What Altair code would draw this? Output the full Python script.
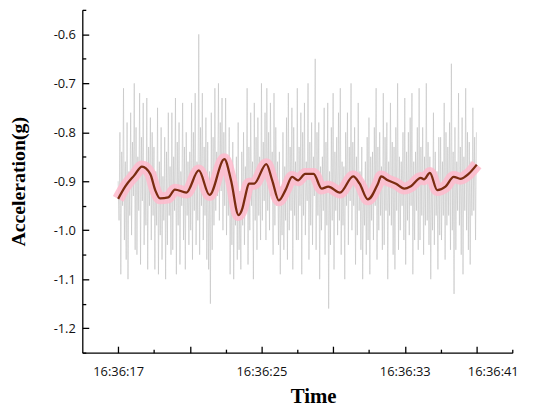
import altair as alt
import pandas as pd

# ---- data ----
# raw acceleration samples (g), 0.05 s apart starting at 16:36:17
raw_start = 17.0
raw_step = 0.05
raw_values = [
    # 16:36:17
    -0.90, -0.98, -0.80, -1.09, -0.84, -0.95, -0.71, -1.02, -0.86, -1.06,
    -0.78, -1.10, -0.88, -0.97, -0.76, -1.01, -0.82, -0.93, -0.70, -1.04,
    # 16:36:18
    -0.79, -1.05, -0.85, -0.96, -0.72, -1.07, -0.81, -0.94, -0.74, -1.03,
    -0.87, -0.99, -0.73, -1.08, -0.83, -0.95, -0.77, -1.02, -0.80, -0.97,
    # 16:36:19
    -0.83, -1.08, -0.88, -0.99, -0.75, -1.09, -0.86, -1.01, -0.79, -1.06,
    -0.89, -0.98, -0.81, -1.10, -0.84, -1.03, -0.76, -0.97, -0.87, -1.05,
    # 16:36:20
    -0.76, -1.04, -0.85, -0.96, -0.73, -1.09, -0.82, -0.99, -0.78, -1.07,
    -0.88, -0.95, -0.74, -1.02, -0.83, -1.08, -0.80, -0.97, -0.86, -1.03,
    # 16:36:21
    -0.84, -1.00, -0.74, -1.06, -0.80, -0.96, -0.72, -1.03, -0.86, -0.98,
    -0.60, -1.05, -0.79, -0.95, -0.72, -1.02, -0.83, -0.97, -0.77, -1.06,
    # 16:36:22
    -0.82, -1.08, -0.88, -1.15, -0.76, -1.04, -0.81, -0.99, -0.71, -0.96,
    -0.84, -0.93, -0.70, -0.98, -0.78, -0.92, -0.73, -1.00, -0.80, -0.95,
    # 16:36:23
    -0.73, -1.01, -0.85, -0.97, -0.79, -1.09, -0.88, -1.03, -0.82, -1.10,
    -0.90, -0.99, -0.85, -1.06, -0.78, -1.04, -0.92, -1.08, -0.84, -0.99,
    # 16:36:24
    -0.80, -1.03, -0.87, -0.96, -0.71, -1.07, -0.83, -1.00, -0.76, -0.95,
    -0.86, -1.10, -0.74, -0.98, -0.81, -1.04, -0.77, -0.97, -0.85, -1.02,
    # 16:36:25
    -0.70, -0.98, -0.82, -0.94, -0.76, -1.02, -0.71, -0.96, -0.80, -1.00,
    -0.74, -0.93, -0.84, -1.05, -0.72, -0.99, -0.79, -0.95, -0.86, -1.03,
    # 16:36:26
    -0.84, -1.09, -0.91, -1.01, -0.80, -1.04, -0.87, -0.98, -0.77, -1.06,
    -0.72, -1.00, -0.83, -0.96, -0.75, -1.08, -0.79, -0.97, -0.86, -1.02,
    # 16:36:27
    -0.71, -1.02, -0.83, -0.95, -0.76, -1.09, -0.80, -0.97, -0.74, -1.01,
    -0.86, -0.94, -0.70, -1.06, -0.82, -0.99, -0.78, -1.03, -0.85, -0.93,
    # 16:36:28
    -0.65, -1.04, -0.80, -0.97, -0.78, -1.10, -0.87, -1.00, -0.85, -0.96,
    -0.75, -1.05, -0.82, -0.99, -0.74, -1.16, -0.88, -1.03, -0.79, -0.98,
    # 16:36:29
    -0.72, -1.08, -0.84, -0.96, -0.81, -1.01, -0.76, -0.98, -0.71, -1.05,
    -0.86, -0.99, -0.87, -1.10, -0.80, -0.95, -0.76, -1.03, -0.83, -0.94,
    # 16:36:30
    -0.70, -1.00, -0.82, -0.95, -0.79, -1.07, -0.85, -1.01, -0.74, -0.96,
    -0.88, -1.04, -0.83, -1.10, -0.90, -0.99, -0.86, -1.05, -0.81, -1.02,
    # 16:36:31
    -0.77, -1.09, -0.85, -0.98, -0.84, -1.02, -0.79, -0.95, -0.71, -1.06,
    -0.83, -1.00, -0.80, -0.97, -0.87, -1.04, -0.72, -1.03, -0.81, -0.96,
    # 16:36:32
    -0.78, -1.10, -0.86, -0.97, -0.74, -0.99, -0.82, -1.05, -0.83, -1.08,
    -0.79, -0.96, -0.70, -1.04, -0.85, -1.00, -0.86, -0.95, -0.80, -1.02,
    # 16:36:33
    -0.73, -1.07, -0.84, -0.98, -0.80, -1.01, -0.77, -0.95, -0.72, -1.09,
    -0.86, -1.02, -0.84, -0.96, -0.79, -1.04, -0.71, -1.02, -0.83, -0.97,
    # 16:36:34
    -0.79, -1.05, -0.85, -0.99, -0.70, -0.98, -0.82, -1.03, -0.85, -1.10,
    -0.88, -1.00, -0.76, -1.03, -0.84, -0.97, -0.88, -1.08, -0.81, -1.01,
    # 16:36:35
    -0.81, -1.02, -0.86, -0.97, -0.74, -1.06, -0.80, -0.99, -0.83, -0.97,
    -0.78, -1.04, -0.66, -1.00, -0.84, -1.13, -0.79, -1.04, -0.86, -0.96,
    # 16:36:36
    -0.72, -0.99, -0.83, -1.05, -0.77, -1.09, -0.85, -0.96, -0.71, -1.00,
    -0.80, -1.04, -0.82, -1.07, -0.86, -0.97, -0.75, -0.96, -0.81, -1.02,
    # 16:36:37
    -0.80,
]

# smoothed curve (seconds after 16:36:00, g)
smooth_t = [17.00, 17.41, 17.90, 18.33, 18.79, 19.07, 19.34, 19.80, 20.17, 20.81,
            21.50, 22.10, 22.93, 23.30, 23.72, 23.94, 24.10, 24.30, 24.59, 25.27,
            25.60, 25.97, 26.34, 26.71, 27.04, 27.44, 27.91, 28.36, 28.73, 29.38,
            30.12, 30.48, 30.94, 31.50, 31.68, 32.05, 32.51, 32.97, 33.34, 33.89,
            34.07, 34.40, 34.81, 35.27, 35.73, 36.10, 36.56, 37.02]
smooth_v = [-0.936, -0.910, -0.888, -0.870, -0.885, -0.918, -0.935, -0.933, -0.917, -0.923,
            -0.878, -0.928, -0.855, -0.898, -0.969, -0.955, -0.930, -0.905, -0.905, -0.865,
            -0.898, -0.939, -0.918, -0.891, -0.898, -0.885, -0.885, -0.915, -0.911, -0.923,
            -0.890, -0.905, -0.937, -0.905, -0.890, -0.898, -0.905, -0.915, -0.910, -0.893,
            -0.896, -0.883, -0.918, -0.911, -0.891, -0.895, -0.885, -0.866]

x_ticks = [17, 19, 21, 23, 25, 27, 29, 31, 33, 35, 37, 39]
x_labels = [17, 25, 33, 39]
y_labels = [-1.2, -1.1, -1.0, -0.9, -0.8, -0.7, -0.6]
y_ticks = [-1.25, -1.2, -1.15, -1.1, -1.05, -1.0, -0.95, -0.9, -0.85, -0.8,
           -0.75, -0.7, -0.65, -0.6, -0.55]

raw_df = pd.DataFrame({
    "t": [raw_start + i * raw_step for i in range(len(raw_values))],
    "acc": raw_values,
})
smooth_df = pd.DataFrame({"t": smooth_t, "acc": smooth_v})

W, H = 434, 346
xscale = alt.Scale(domain=[15, 39], nice=False, zero=False)
yscale = alt.Scale(domain=[-1.25, -0.55], nice=False, zero=False)

label_font = "Open Sans"
title_font = "Liberation Serif"

x_main = alt.Axis(
    orient="bottom", values=x_labels, ticks=False, tickSize=0, grid=False,
    labelExpr="datum.value == 39 ? '16:36:41' : '16:36:' + format(datum.value, '02d')",
    labelOffset={"condition": {"test": "datum.value == 39", "value": 6}, "value": 0},
    labelPadding=13, labelFont=label_font, labelFontSize=13, labelColor="#111",
    domainColor="black", domainWidth=1.3,
    title="Time", titleFont=title_font, titleFontSize=21, titleFontWeight="bold",
    titleColor="black", titlePadding=7, titleX=233,
)
y_main = alt.Axis(
    orient="left", values=y_labels, ticks=False, tickSize=0, grid=False,
    labelExpr="'-' + format(abs(datum.value), '.1f')",
    labelPadding=7, labelFont=label_font, labelFontSize=13, labelColor="#111",
    domainColor="black", domainWidth=1.3,
    title="Acceleration(g)", titleFont=title_font, titleFontSize=20,
    titleFontWeight="bold", titleColor="black", titlePadding=25,
)
# inward-pointing ticks: same scales, axes placed on the opposite side of the data rectangle
x_ticks_axis = alt.Axis(
    orient="top", offset=-H, values=x_ticks, labels=False, domain=False, grid=False,
    title=None, tickColor="black", tickWidth=1.3,
    tickSize={"condition": {"test": "datum.value % 4 == 1", "value": 6.5}, "value": 3.5},
)
y_ticks_axis = alt.Axis(
    orient="right", offset=-W, values=y_ticks, labels=False, domain=False, grid=False,
    title=None, tickColor="black", tickWidth=1.3,
    tickSize={"condition": {"test": "abs(round(datum.value * 100)) % 10 == 0", "value": 6.5},
              "value": 3.5},
)

raw_line = alt.Chart(raw_df).mark_line(color="#bdbdbd", strokeWidth=0.55).encode(
    x=alt.X("t:Q", scale=xscale, axis=x_main),
    y=alt.Y("acc:Q", scale=yscale, axis=y_main),
)
band = alt.Chart(smooth_df).mark_line(
    color="#ffbacd", strokeWidth=12, interpolate="monotone", opacity=0.85
).encode(
    x=alt.X("t:Q", scale=xscale, axis=x_ticks_axis),
    y=alt.Y("acc:Q", scale=yscale, axis=y_ticks_axis),
)
fit = alt.Chart(smooth_df).mark_line(
    color="#7a2c10", strokeWidth=2.3, interpolate="monotone"
).encode(
    x=alt.X("t:Q", scale=xscale, axis=None),
    y=alt.Y("acc:Q", scale=yscale, axis=None),
)

chart = (
    alt.layer(raw_line, band, fit)
    .resolve_axis(x="independent", y="independent")
    .properties(
        width=W, height=H,
        autosize=alt.AutoSizeParams(type="none"),
        padding={"left": 75, "top": 0, "right": 30, "bottom": 55},
    )
    .configure_view(stroke=None)
)

chart.save("out.html", embed_options={"renderer": "svg", "actions": False})
